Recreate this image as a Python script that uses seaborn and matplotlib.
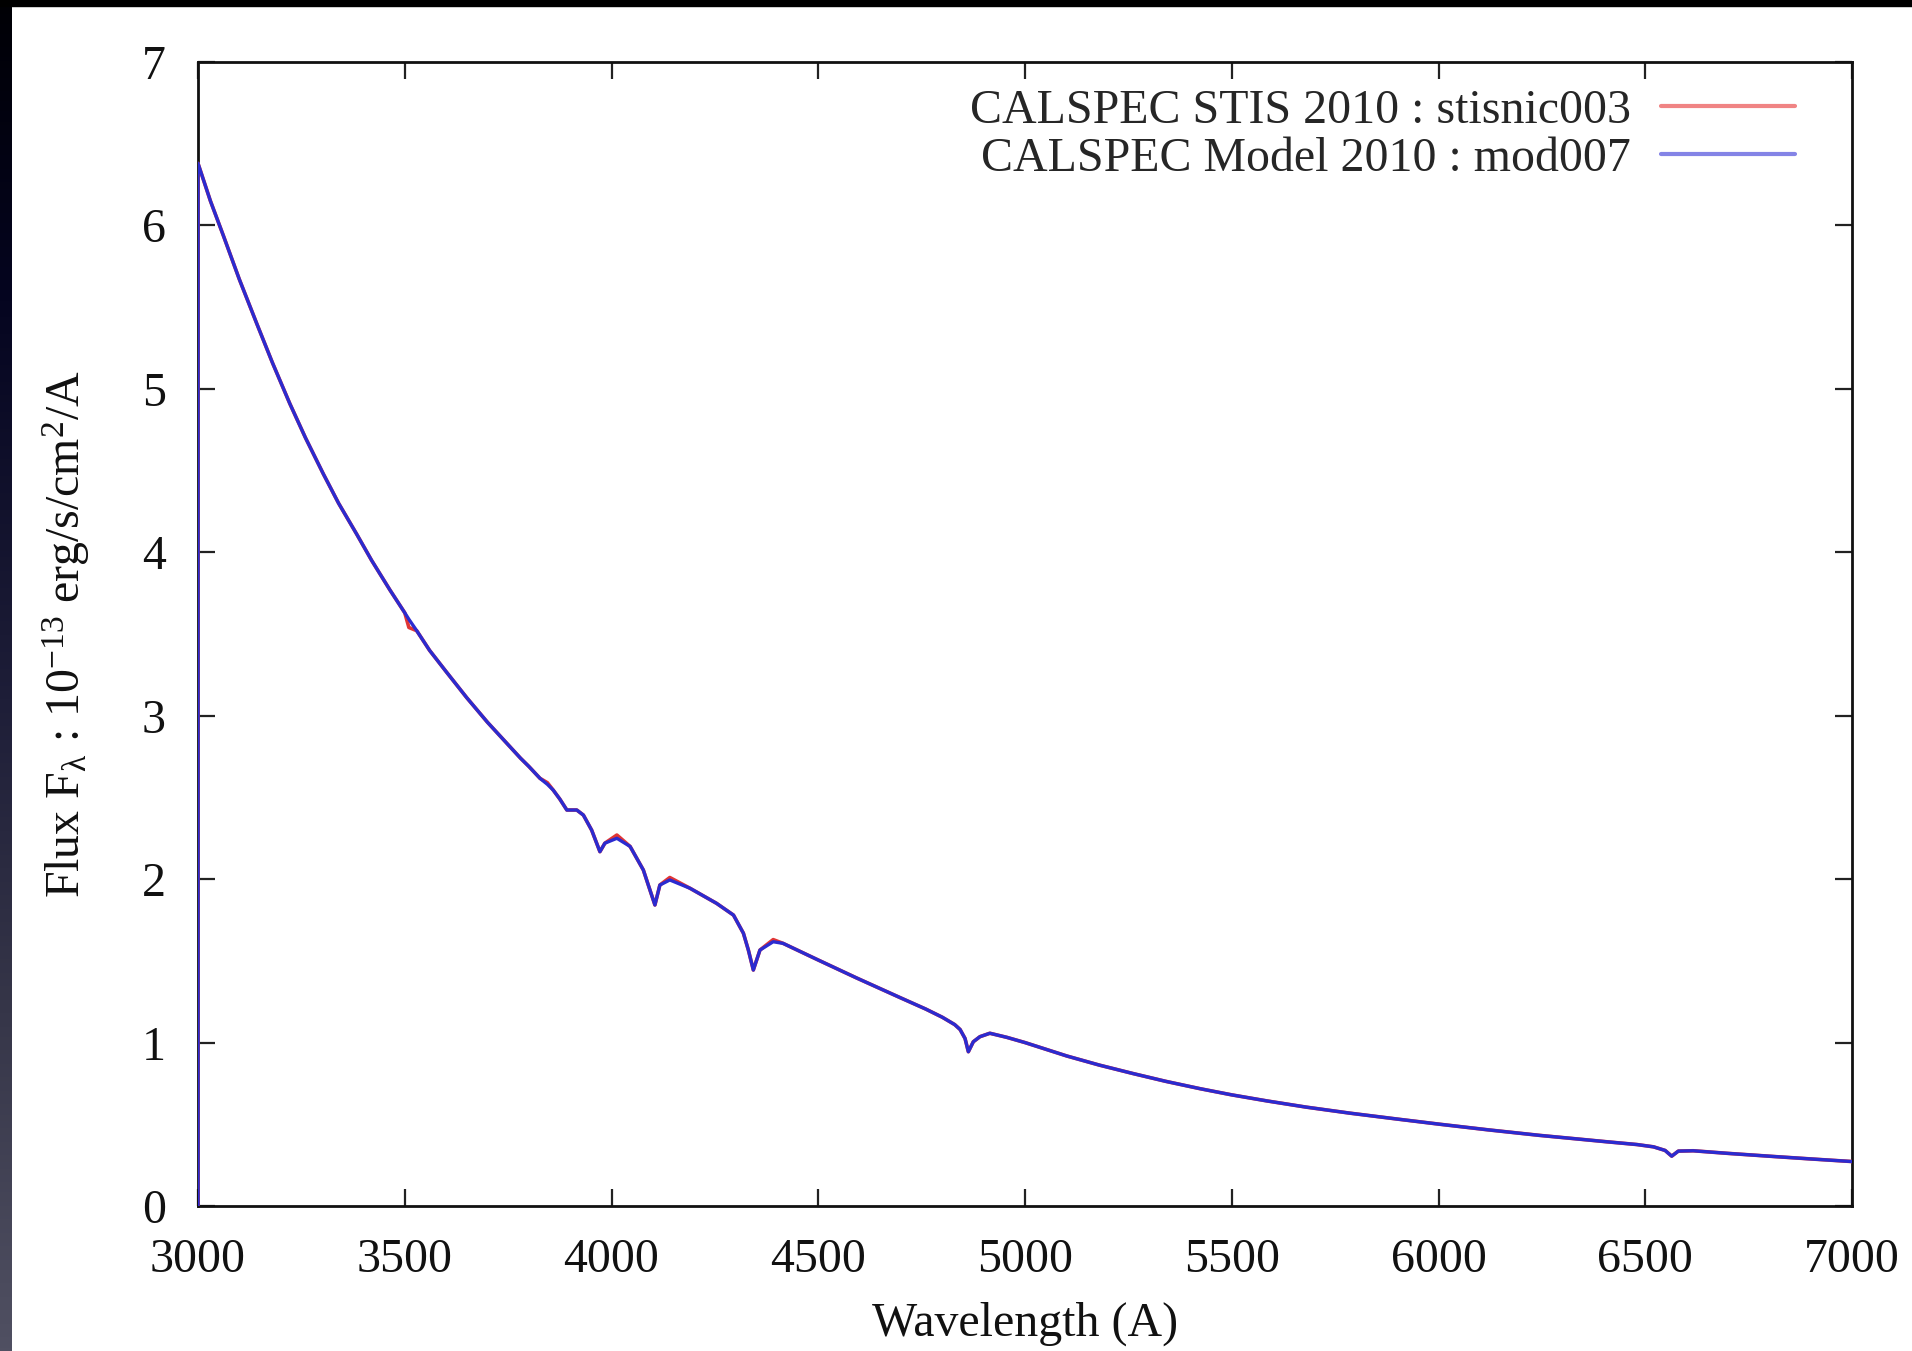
import numpy as np
import pandas as pd
import matplotlib
matplotlib.use("Agg")
import matplotlib.pyplot as plt
from matplotlib.lines import Line2D
from matplotlib.patches import Rectangle
import seaborn as sns

# ---------------- data ----------------
wavelength = [3000, 3000, 3030, 3061, 3100, 3142, 3180, 3222, 3260, 3303, 3340, 3384,
              3420, 3464, 3500, 3510, 3529, 3560, 3600, 3650, 3700, 3740, 3780, 3800,
              3827, 3845, 3859, 3875, 3892, 3916, 3932, 3952, 3972, 3984,
              4013, 4045, 4077, 4089, 4105, 4117, 4141, 4190, 4254, 4295, 4319, 4331,
              4343, 4359, 4391, 4415, 4500, 4593, 4698, 4760, 4800, 4830, 4843, 4855, 4863,
              4875, 4891, 4915, 4956, 5000, 5101, 5180, 5262, 5340, 5423, 5500, 5585, 5680,
              5786, 5900, 6004, 6120, 6245, 6320, 6407, 6480,
              6520, 6548, 6564, 6580, 6616, 6700, 6810, 6900, 7000]

flux_model = [0.0, 6.38, 6.15, 5.94, 5.67, 5.40, 5.16, 4.91, 4.70, 4.48, 4.30, 4.11,
              3.95, 3.77, 3.63, 3.59, 3.52, 3.40, 3.27, 3.11, 2.96, 2.85, 2.74, 2.69,
              2.617, 2.58, 2.545, 2.49, 2.423, 2.423, 2.392, 2.30, 2.168, 2.22,
              2.25, 2.20, 2.056, 1.964, 1.842, 1.964, 1.995, 1.944, 1.852, 1.78, 1.669, 1.566,
              1.444, 1.566, 1.617, 1.607, 1.505, 1.395, 1.275, 1.205, 1.155, 1.11, 1.08, 1.025, 0.944,
              1.005, 1.036, 1.057, 1.032, 1.00, 0.918, 0.862, 0.810, 0.763, 0.718, 0.680, 0.643, 0.605,
              0.568, 0.532, 0.500, 0.466, 0.432, 0.414, 0.393, 0.376,
              0.362, 0.340, 0.305, 0.336, 0.338, 0.322, 0.303, 0.288, 0.272]

flux_stis = [0.0, 6.38, 6.15, 5.94, 5.67, 5.40, 5.16, 4.91, 4.70, 4.48, 4.30, 4.11,
             3.95, 3.77, 3.63, 3.54, 3.52, 3.40, 3.27, 3.11, 2.96, 2.85, 2.74, 2.69,
             2.617, 2.59, 2.545, 2.49, 2.423, 2.423, 2.392, 2.30, 2.168, 2.22,
             2.27, 2.20, 2.056, 1.964, 1.842, 1.964, 2.01, 1.944, 1.852, 1.78, 1.669, 1.566,
             1.444, 1.566, 1.63, 1.607, 1.505, 1.395, 1.275, 1.205, 1.155, 1.11, 1.08, 1.025, 0.944,
             1.005, 1.036, 1.057, 1.032, 1.00, 0.918, 0.862, 0.810, 0.763, 0.718, 0.680, 0.643, 0.605,
             0.568, 0.532, 0.500, 0.466, 0.432, 0.414, 0.393, 0.376,
             0.362, 0.340, 0.305, 0.336, 0.338, 0.322, 0.303, 0.288, 0.272]

series_labels = ["CALSPEC STIS 2010 : stisnic003", "CALSPEC Model 2010 : mod007"]
x_ticks = [3000, 3500, 4000, 4500, 5000, 5500, 6000, 6500, 7000]
y_ticks = [0, 1, 2, 3, 4, 5, 6, 7]

# ---------------- style ----------------
sns.set_theme(style="white")
plt.rcParams["font.family"] = ["Liberation Serif", "DejaVu Serif"]
plt.rcParams["mathtext.fontset"] = "custom"
plt.rcParams["mathtext.rm"] = "Liberation Serif"
plt.rcParams["mathtext.it"] = "Liberation Serif:italic"
plt.rcParams["mathtext.bf"] = "Liberation Serif:bold"

FS = 34.5
W, H = 1912, 1351
fig = plt.figure(figsize=(W / 100, H / 100), dpi=100)
fig.patch.set_facecolor("white")

ax_l, ax_r, ax_t, ax_b = 198, 1852, 62, 1206
ax = fig.add_axes([ax_l / W, 1 - ax_b / H, (ax_r - ax_l) / W, (ax_b - ax_t) / H])

df_stis = pd.DataFrame({"wavelength": wavelength, "flux": flux_stis})
df_model = pd.DataFrame({"wavelength": wavelength, "flux": flux_model})

sns.lineplot(data=df_stis, x="wavelength", y="flux", ax=ax, color="#e03535",
             lw=2.6, estimator=None, sort=False, legend=False, zorder=3)
sns.lineplot(data=df_model, x="wavelength", y="flux", ax=ax, color="#2b2bd0",
             lw=2.4, estimator=None, sort=False, legend=False, zorder=3)

ax.set_xlim(3000, 7000)
ax.set_ylim(0, 7)
ax.set_xticks(x_ticks)
ax.set_yticks(y_ticks)
ax.set_xticklabels([str(v) for v in x_ticks])
ax.set_yticklabels([str(v) for v in y_ticks])
ax.tick_params(axis="both", which="major", direction="in", length=12, width=1.6,
               color="#222222", labelsize=FS, pad=23, top=True, right=True,
               bottom=True, left=True, labelcolor="#111111")
for sp in ax.spines.values():
    sp.set_visible(True)
    sp.set_color("#111111")
    sp.set_linewidth(2.0)

ax.set_xlabel("Wavelength (A)", fontsize=FS, color="#111111")
ax.set_ylabel(r"Flux F$_{\mathrm{λ}}$ : 10$^{-13}$ erg/s/cm$^{2}$/A", fontsize=FS,
              color="#111111")
ax.xaxis.set_label_coords(0.5, (ax_b - 1302) / (ax_b - ax_t))
ax.yaxis.set_label_coords((92 - ax_l) / (ax_r - ax_l), 0.5)

handles = [Line2D([], [], color="#f08484", lw=3.0),
           Line2D([], [], color="#8484e6", lw=3.0)]
ax.legend(handles=handles, labels=series_labels, loc="upper right",
          bbox_to_anchor=((1795 - ax_l) / (ax_r - ax_l), (ax_b - 89) / (ax_b - ax_t)),
          frameon=False, markerfirst=False, fontsize=FS, handlelength=2.8,
          handletextpad=0.62, labelspacing=0.08, borderaxespad=0, borderpad=0)

# dark frame at the left and top edge of the picture
grad_ax = fig.add_axes([0, 0, 12 / W, 1])
stops_y = np.array([0.0, 300, 700, 1000, 1351]) / 1351
stops_c = np.array([[0, 0, 5], [5, 5, 32], [30, 30, 56], [53, 53, 72], [80, 80, 98]]) / 255
yy = np.linspace(0, 1, 400)
grad = np.stack([np.interp(yy, stops_y, stops_c[:, k]) for k in range(3)], axis=1)
grad_ax.imshow(grad[:, None, :], aspect="auto", extent=[0, 1, 1, 0])
grad_ax.set_axis_off()
fig.add_artist(Rectangle((0, 1 - 6 / H), 1, 6 / H, transform=fig.transFigure,
                         color="black", zorder=10))

fig.savefig("out.png", dpi=100)
